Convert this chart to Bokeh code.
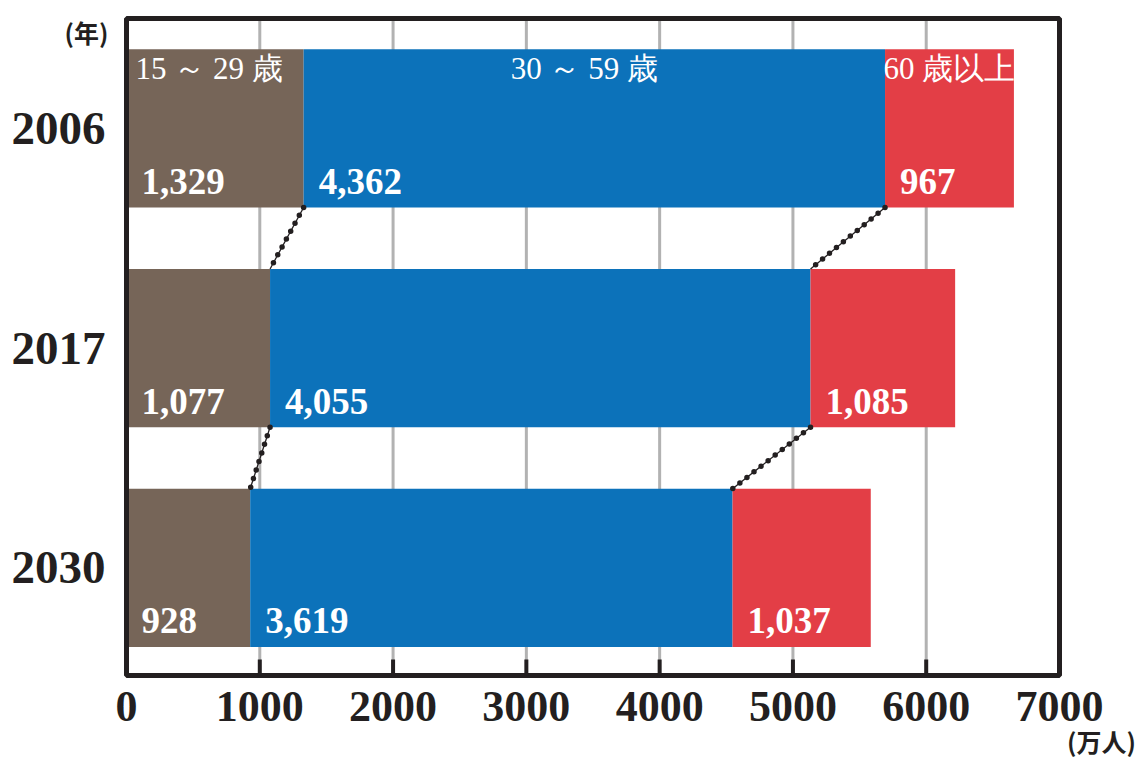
from bokeh.plotting import figure
from bokeh.models import Range1d, ColumnDataSource
from bokeh.core.properties import value
from bokeh.embed import file_html
from bokeh.resources import INLINE

# ---- data -------------------------------------------------------------
years = ["2006", "2017", "2030"]
age_groups = ["15 ～ 29 歳", "30 ～ 59 歳", "60 歳以上"]
young = [1329, 1077, 928]      # 15-29
middle = [4362, 4055, 3619]    # 30-59
senior = [967, 1085, 1037]     # 60+
x_ticks = [0, 1000, 2000, 3000, 4000, 5000, 6000, 7000]
unit_year = "(年)"
unit_people = "(万人)"

colors = ["#766558", "#0c72ba", "#e33e46"]
INK = "#231f20"
SERIF = "Liberation Serif"
SANS_CJK = "Noto Sans CJK JP"

# ---- canvas geometry (pixels) ----------------------------------------
W, H = 1142, 758
F_LEFT, F_RIGHT, F_TOP, F_BOTTOM = 126, 1059, 18, 675   # plotting box
X0, X1 = 0, 7000
Y_TOP, Y_BOTTOM = -0.5, 2.49
BAR_H = 0.72

px_x = (F_RIGHT - F_LEFT) / (X1 - X0)
px_y = (F_BOTTOM - F_TOP) / (Y_BOTTOM - Y_TOP)
dx = lambda px: px / px_x
dy = lambda px: px / px_y

# the figure frame spans the whole canvas; the box is drawn inside it
p = figure(width=W, height=H, output_backend="svg", toolbar_location=None,
           x_range=Range1d(X0 - dx(F_LEFT), X1 + dx(W - F_RIGHT)),
           y_range=Range1d(Y_BOTTOM + dy(H - F_BOTTOM), Y_TOP - dy(F_TOP)),
           x_axis_location=None, y_axis_location=None, min_border=0)
p.outline_line_color = None
p.background_fill_color = "white"
p.border_fill_color = "white"
p.grid.visible = False

# vertical grid lines
inner = x_ticks[1:-1]
p.segment(x0=inner, y0=[Y_TOP] * len(inner), x1=inner, y1=[Y_BOTTOM] * len(inner),
          line_color="#b2b2b2", line_width=3)

# stacked bars
idx = list(range(len(years)))
left1 = [0] * len(years)
right1 = young
left2 = young
right2 = [a + b for a, b in zip(young, middle)]
left3 = right2
right3 = [a + b for a, b in zip(right2, senior)]
segments = [(left1, right1), (left2, right2), (left3, right3)]
for (l, r), c in zip(segments, colors):
    p.hbar(y=idx, left=l, right=r, height=BAR_H, fill_color=c, line_color=None)

# dotted connectors between consecutive bars
half = BAR_H / 2
cx0, cy0, cx1, cy1 = [], [], [], []
for i in range(len(years) - 1):
    for bounds in (right1, right2):
        cx0.append(bounds[i]); cy0.append(i + half)
        cx1.append(bounds[i + 1]); cy1.append(i + 1 - half)
src = ColumnDataSource(dict(x0=cx0, y0=cy0, x1=cx1, y1=cy1))
p.segment("x0", "y0", "x1", "y1", source=src, line_color=INK, line_width=1.3)
p.segment("x0", "y0", "x1", "y1", source=src, line_color=INK, line_width=5.5,
          line_dash="0 9", line_cap="round")

# plotting box and inner tick marks
p.quad(left=[X0], right=[X1], top=[Y_TOP], bottom=[Y_BOTTOM],
       fill_color=None, line_color=INK, line_width=5)
p.segment(x0=inner, y0=[Y_BOTTOM] * len(inner), x1=inner,
          y1=[Y_BOTTOM - dy(16)] * len(inner), line_color=INK, line_width=4)

# x tick labels
p.text(x=x_ticks, y=[Y_BOTTOM + dy(31)] * len(x_ticks), text=[str(t) for t in x_ticks],
       text_font=value(SERIF), text_font_style="bold", text_font_size="44px",
       text_color=INK, text_align="center", text_baseline="middle")

# year labels
p.text(x=[X0 - dx(21)] * len(years), y=idx, text=years,
       text_font=value(SERIF), text_font_style="bold", text_font_size="47px",
       text_color=INK, text_align="right", text_baseline="middle")

# value labels at the bottom of each segment
val_y = [i + dy(53) for i in idx]
for (l, r), vals in zip(segments, (young, middle, senior)):
    p.text(x=l, y=val_y, text=[f"{v:,}" for v in vals], x_offset=15,
           text_font=value(SERIF), text_font_style="bold",
           text_font_size="37px", text_color="white",
           text_align="left", text_baseline="middle")

# age-group names inside the first row
name_y = [idx[0] - dy(60)]
name_style = dict(text_font=value(SERIF), text_font_size="31px", text_color="white",
                  text_baseline="middle")
p.text(x=[left1[0]], y=name_y, text=[age_groups[0]], x_offset=9,
       text_align="left", **name_style)
p.text(x=[(left2[0] + right2[0]) / 2], y=name_y, text=[age_groups[1]], x_offset=-10,
       text_align="center", **name_style)
p.text(x=[(left3[0] + right3[0]) / 2], y=name_y, text=[age_groups[2]],
       text_align="center", **name_style)

# unit captions
unit_style = dict(text_font=value(SANS_CJK), text_font_style="bold",
                  text_font_size="25px", text_color=INK,
                  text_align="center", text_baseline="middle")
p.text(x=[X0 - dx(40)], y=[Y_TOP + dy(13)], text=[unit_year], **unit_style)
p.text(x=[X1 + dx(42)], y=[Y_BOTTOM + dy(65)], text=[unit_people], **unit_style)

open("out.html", "w").write(file_html(p, INLINE))
